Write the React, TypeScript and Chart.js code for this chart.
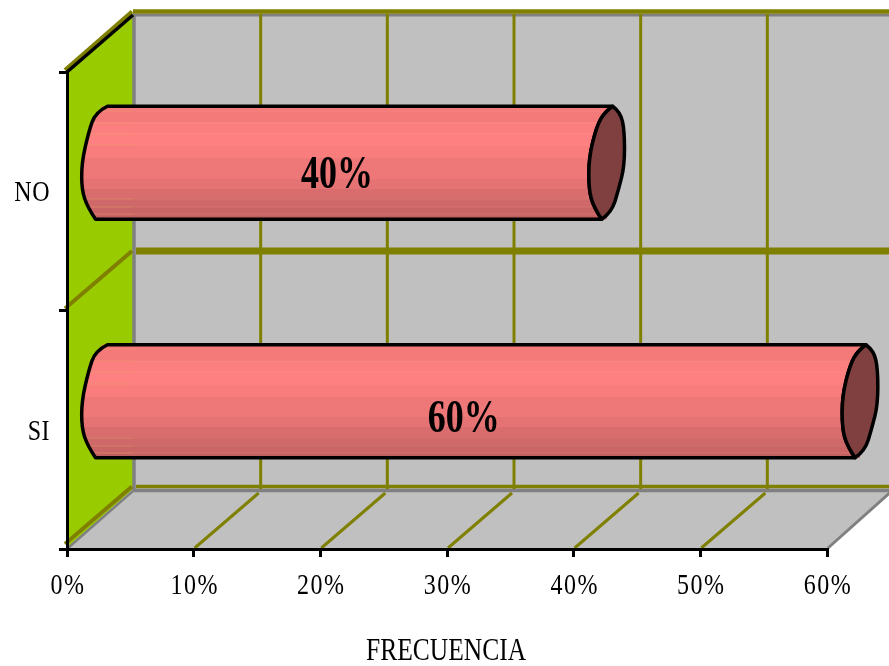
import React, { useEffect, useRef } from "react";
import { Chart, registerables } from "chart.js";

Chart.register(...registerables);

const categories = ["NO", "SI"];
const frecuencia = [40, 60];
const axisTitle = "FRECUENCIA";

const SERIF = '"Liberation Serif", "Times New Roman", serif';
const OLIVE = "#808000";
const WALL = "#c0c0c0";
const EDGE = "#808080";
const SIDE = "#99cc00";
const CAP = "#804040";

// Horizontal shading of the cylinder, top to bottom: [start fraction, colour].
const shading: [number, string][] = [
  [0, "#f47a7a"],
  [0.14, "#fb7f7f"],
  [0.24, "#ff8080"],
  [0.34, "#fa7d7d"],
  [0.46, "#ee7777"],
  [0.64, "#e57373"],
  [0.73, "#d96c6c"],
  [0.82, "#cf6868"],
  [0.89, "#c96565"],
  [0.97, "#c06060"],
];

// Thin paler seams between some of the shading bands.
const seams = [0.035, 0.14, 0.24, 0.34, 0.82, 0.89, 0.95];

// Vertical nudge of the value labels below the middle of each bar.
const labelDrop = [13.5, 19];

// Outline of the tilted cylinder end around its centre, for a half height of 57.
const endLeftSide: [number, number][] = [
  [6, -57], [-2, -51], [-10, -37], [-18, -5], [-18, 27], [-13, 45], [-5, 57],
];
const endRightSide: [number, number][] = [
  [14, -51], [18, -32], [18, 3], [12, 27], [5, 50],
];
const bulgeLeft: [number, number][] = [
  [6, -57], [-6, -51], [-13, -31], [-20, 0], [-20, 27], [-14, 45], [-6, 57],
];

// Depth of the box: back wall offset and the plane the bars stand on.
const DEPTH_X = 66;
const DEPTH_Y = 60;
const BAR_SHIFT_X = 33;
const BAR_SHIFT_Y = -28.5;
const BAR_THICKNESS = 113;

function shadingFor(chart: any, index: number) {
  const mid = chart.scales.y.getPixelForTick(index);
  const top = mid - BAR_THICKNESS / 2;
  const g = chart.ctx.createLinearGradient(0, top, 0, top + BAR_THICKNESS);
  shading.forEach(([from, colour], i) => {
    const to = i + 1 < shading.length ? shading[i + 1][0] : 1;
    g.addColorStop(from, colour);
    g.addColorStop(to, colour);
  });
  return g;
}

function stretchedText(
  ctx: CanvasRenderingContext2D,
  text: string,
  x: number,
  y: number,
  font: string,
  stretch: number,
  align: CanvasTextAlign = "center",
  spacing = "0px"
) {
  ctx.save();
  ctx.translate(x, y);
  ctx.scale(1, stretch);
  ctx.font = font;
  (ctx as any).letterSpacing = spacing;
  ctx.textAlign = align;
  ctx.textBaseline = "middle";
  ctx.fillStyle = "#000";
  ctx.fillText(text, 0, 0);
  ctx.restore();
}

function line(ctx: CanvasRenderingContext2D, x0: number, y0: number, x1: number, y1: number, colour: string, width: number) {
  ctx.strokeStyle = colour;
  ctx.lineWidth = width;
  ctx.beginPath();
  ctx.moveTo(x0, y0);
  ctx.lineTo(x1, y1);
  ctx.stroke();
}

// Rounds the corners of an open run of points, keeping its two end points.
function smoothRun(ctx: CanvasRenderingContext2D, pts: [number, number][], start: boolean) {
  if (start) ctx.moveTo(pts[0][0], pts[0][1]);
  else ctx.lineTo(pts[0][0], pts[0][1]);
  for (let i = 1; i < pts.length - 1; i++) {
    const nx = i === pts.length - 2 ? pts[i + 1][0] : (pts[i][0] + pts[i + 1][0]) / 2;
    const ny = i === pts.length - 2 ? pts[i + 1][1] : (pts[i][1] + pts[i + 1][1]) / 2;
    ctx.quadraticCurveTo(pts[i][0], pts[i][1], nx, ny);
  }
}

// Walls and floor of the box, placed from the scales.
const boxPlugin = {
  id: "box",
  beforeDraw(chart: any) {
    const { ctx, chartArea, scales, width } = chart;
    const { left, right, top, bottom } = chartArea;
    const backLeft = left + DEPTH_X;
    const backTop = top - 58;
    const backBottom = bottom - DEPTH_Y;
    const floorRight = right + DEPTH_X;
    ctx.save();
    ctx.lineCap = "butt";

    ctx.fillStyle = WALL;
    ctx.fillRect(backLeft, backTop, width - backLeft, backBottom + 3 - backTop);

    ctx.beginPath();
    ctx.moveTo(left, bottom);
    ctx.lineTo(backLeft, backBottom);
    ctx.lineTo(floorRight, backBottom);
    ctx.lineTo(right, bottom);
    ctx.closePath();
    ctx.fill();

    ctx.fillStyle = SIDE;
    ctx.beginPath();
    ctx.moveTo(left, top);
    ctx.lineTo(backLeft, backTop);
    ctx.lineTo(backLeft, backBottom);
    ctx.lineTo(left, bottom);
    ctx.closePath();
    ctx.fill();

    // wall edges
    line(ctx, backLeft + 1, backTop, backLeft + 1, backBottom + 2, EDGE, 3.5);
    line(ctx, backLeft, backTop + 1, width, backTop + 1, EDGE, 3);
    line(ctx, backLeft, backBottom + 1.5, width, backBottom + 1.5, EDGE, 3.5);
    line(ctx, left + 1, bottom - 1, backLeft + 1, backBottom + 1, EDGE, 2.5);
    line(ctx, right + 1, bottom - 1, floorRight, backBottom + 1, EDGE, 3);

    // vertical grid lines on the back wall and across the floor
    scales.x.ticks.forEach((_: any, i: number) => {
      if (i === 0 || i === scales.x.ticks.length - 1) return;
      const px = scales.x.getPixelForTick(i);
      line(ctx, px + DEPTH_X + 1, backTop, px + DEPTH_X + 1, backBottom, OLIVE, 3);
      line(ctx, px + 1, bottom - 1, px + DEPTH_X - 1, backBottom + 4, OLIVE, 3);
    });

    // horizontal grid lines on the back wall, with their run along the side wall
    const gridYs = [top, (top + bottom) / 2, bottom];
    gridYs.forEach((py, i) => {
      const backY = i === 0 ? backTop - 2.5 : i === 1 ? py - 59.5 : backBottom - 2.5;
      const w = i === 0 ? 4.5 : i === 1 ? 7 : 3.5;
      line(ctx, backLeft + (i === 0 ? 0 : 3), backY, width, backY, OLIVE, w);
      line(ctx, left - 2, py - (i === 2 ? 5 : 2), backLeft - 1, backY, OLIVE, 4);
    });
    line(ctx, left, top, backLeft, backTop + 1, "#000", 3.5);
    ctx.restore();
  },
  beforeDatasetDraw(chart: any) {
    chart.ctx.save();
    chart.ctx.translate(BAR_SHIFT_X, BAR_SHIFT_Y);
  },
  afterDatasetDraw(chart: any, args: any) {
    const { ctx } = chart;
    ctx.lineJoin = "round";
    args.meta.data.forEach((bar: any, i: number) => {
      const k = bar.height / 2 / 57;
      const at = (cx: number, pts: [number, number][]) =>
        pts.map(([px, py]) => [cx + px * k, bar.y + py * k] as [number, number]);
      const nearLeft = at(bar.x, endLeftSide);
      const nearRight = at(bar.x, endRightSide);

      // cylinder body with its rounded far end
      const bodyPath = () => {
        ctx.beginPath();
        smoothRun(ctx, at(bar.base, bulgeLeft), true);
        smoothRun(ctx, [...nearLeft].reverse(), false);
        ctx.closePath();
      };
      bodyPath();
      ctx.fillStyle = shadingFor(chart, i);
      ctx.fill();

      ctx.save();
      bodyPath();
      ctx.clip();
      const barTop = bar.y - bar.height / 2;
      seams.forEach((f) => {
        const y = Math.round(barTop + f * bar.height) + 0.5;
        line(ctx, bar.base - 24, y, bar.x + 10, y, "rgba(255,190,150,0.15)", 1);
        line(ctx, bar.base - 24, y, chart.chartArea.left + DEPTH_X - BAR_SHIFT_X, y, "rgba(230,170,90,0.25)", 1);
      });
      ctx.restore();

      bodyPath();
      ctx.strokeStyle = "#000";
      ctx.lineWidth = 3.5;
      ctx.stroke();

      // near end of the cylinder
      ctx.beginPath();
      const tipTop = nearLeft[0];
      const tipBottom = nearLeft[nearLeft.length - 1];
      smoothRun(ctx, [tipTop, ...nearRight, tipBottom], true);
      smoothRun(ctx, [...nearLeft].reverse(), false);
      ctx.closePath();
      ctx.fillStyle = CAP;
      ctx.fill();
      ctx.stroke();
    });
    ctx.restore();
  },
  afterDraw(chart: any) {
    const { ctx, scales } = chart;
    const font = `24px ${SERIF}`;
    // value labels on the bars
    chart.getDatasetMeta(0).data.forEach((bar: any, i: number) => {
      const label = `${chart.data.datasets[0].data[i]}%`;
      const cx = (bar.base + bar.x) / 2 + BAR_SHIFT_X - 17;
      stretchedText(ctx, label, cx, bar.y + BAR_SHIFT_Y + labelDrop[i], `bold 36px ${SERIF}`, 1.3);
    });
    // axis labels
    scales.x.ticks.forEach((tick: any, i: number) => {
      stretchedText(ctx, tick.label, scales.x.getPixelForTick(i) + 1, scales.x.top + 37, font, 1.25, "center", "1.5px");
    });
    scales.y.ticks.forEach((tick: any, i: number) => {
      stretchedText(ctx, tick.label, scales.y.left + 50, scales.y.getPixelForTick(i) + 2, font, 1.25, "right", "0.5px");
    });
    const titleX = (scales.x.left + scales.x.right) / 2 - 1;
    stretchedText(ctx, scales.x.options.title.text, titleX, scales.x.top + 103, `25.5px ${SERIF}`, 1.25);
  },
};

export default function App() {
  const ref = useRef<HTMLCanvasElement>(null);

  useEffect(() => {
    const chart = new Chart(ref.current!, {
      type: "bar",
      data: {
        labels: categories,
        datasets: [
          {
            label: axisTitle,
            data: frecuencia,
            backgroundColor: (c: any) => shadingFor(c.chart, c.dataIndex),
            borderWidth: 0,
            categoryPercentage: 1,
            barPercentage: BAR_THICKNESS / 238.5,
            clip: false as any,
          },
        ],
      },
      options: {
        indexAxis: "y",
        responsive: false,
        animation: false,
        layout: { padding: { top: 72, right: 62, left: 0, bottom: 0 } },
        plugins: { legend: { display: false }, tooltip: { enabled: false }, title: { display: false } },
        scales: {
          x: {
            type: "linear",
            min: 0,
            max: 60,
            afterFit: (s: any) => {
              s.height = 117;
            },
            title: { display: false, text: axisTitle },
            ticks: { stepSize: 10, display: false, callback: (v: any) => `${v}%` },
            grid: { drawOnChartArea: false, tickLength: 8, tickColor: "#000", lineWidth: 3 },
            border: { color: "#000", width: 3 },
          },
          y: {
            type: "category",
            afterFit: (s: any) => {
              s.width = 67;
            },
            ticks: { display: false },
            grid: { drawOnChartArea: false, offset: true, tickLength: 8, tickColor: "#000", lineWidth: 3 },
            border: { color: "#000", width: 3 },
          },
        },
      },
      plugins: [boxPlugin],
    } as any);
    return () => chart.destroy();
  }, []);

  return (
    <canvas
      ref={ref}
      width={889}
      height={666}
      style={{ position: "fixed", left: 0, top: 0, display: "block" }}
    />
  );
}
